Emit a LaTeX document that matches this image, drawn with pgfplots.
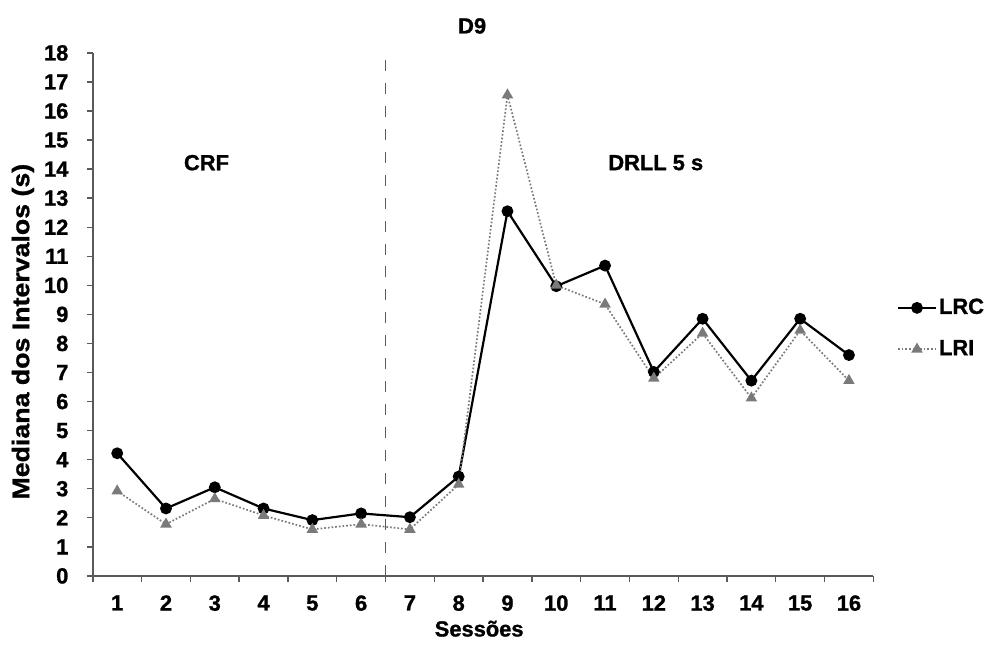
\documentclass[border=0pt]{standalone}
\usepackage{fontspec}
\setmainfont{Liberation Sans}[BoldFeatures={FakeBold=1.2}]
\newfontfamily\ylabfont[FakeStretch=1.12, BoldFeatures={FakeBold=1.2}]{Liberation Sans}
\usepackage{pgfplots}
\pgfplotsset{compat=1.18}
\definecolor{axgray}{HTML}{5A5A5A}
\definecolor{lrigray}{HTML}{7A7A7A}
\newcommand{\bigf}{\fontsize{22}{25}\selectfont\bfseries}
\begin{document}
\bigf
\begin{tikzpicture}
\begin{axis}[
  at={(0,0)}, anchor=south west,
  scale only axis, width=782bp, height=524bp,
  xmin=0.5, xmax=16.5, ymin=0, ymax=18,
  axis lines*=left,
  axis line style={axgray, line width=1.4pt},
  xtick={1,...,16},
  major x tick style={draw=none},
  minor xtick={0.5,1.5,...,16.5},
  minor x tick style={axgray, line width=1.4pt},
  minor tick length=6bp,
  ytick={0,1,...,18},
  major y tick style={axgray, line width=1.4pt},
  major tick length=6bp,
  tick align=outside,
  /pgf/number format/assume math mode=true,
  ticklabel style={font=\bigf},
  xticklabel style={yshift=-6bp},
  yticklabel style={xshift=-11bp},
  xlabel={Sessões},
  ylabel={Mediana dos Intervalos (s)},
  xlabel style={at={(axis description cs:0.495,-0.101)}, anchor=center, font=\bigf},
  ylabel style={at={(axis description cs:-0.0895,0.467)}, anchor=center, font=\ylabfont\fontsize{24}{26}\selectfont\bfseries},
  legend style={draw=none, fill=none, at={(1.03,0.473)}, anchor=west, font=\bigf, row sep=19bp, inner sep=0pt},
  legend cell align=left,
  legend image code/.code={\draw[#1] (0bp,0bp) -- (38bp,0bp); \draw[#1, only marks] plot coordinates {(19bp,0bp)};},
  clip=false,
]
\addplot[black, line width=2.2pt, mark=*, mark size=4.8bp, mark options={solid, fill=black}] coordinates {
(1,4.22) (2,2.32) (3,3.05) (4,2.32) (5,1.92) (6,2.15) (7,2.02) (8,3.42)
(9,12.55) (10,9.97) (11,10.68) (12,7.02) (13,8.85) (14,6.72) (15,8.85) (16,7.6)};
\addlegendentry{LRC}
\addplot[lrigray, line width=1.7pt, dotted, mark=triangle*, mark size=5bp, mark options={solid, fill=lrigray, draw=lrigray}] coordinates {
(1,2.92) (2,1.78) (3,2.65) (4,2.08) (5,1.6) (6,1.78) (7,1.6) (8,3.15)
(9,16.55) (10,10.0) (11,9.35) (12,6.8) (13,8.35) (14,6.12) (15,8.45) (16,6.72)};
\addlegendentry{LRI}
\draw[axgray, line width=1.6pt, dash pattern=on 11bp off 12bp] (axis cs:6.5,0) -- (axis cs:6.5,18);
\node[font=\bigf] at (rel axis cs:0.486,1) [yshift=27bp] {D9};
\node[font=\bigf] at (axis cs:2.83,14.22) {CRF};
\node[font=\bigf] at (axis cs:12.04,14.22) {DRLL 5 s};
\end{axis}
\useasboundingbox (-93bp,-63bp) rectangle (893bp,577bp);
\end{tikzpicture}
\end{document}
